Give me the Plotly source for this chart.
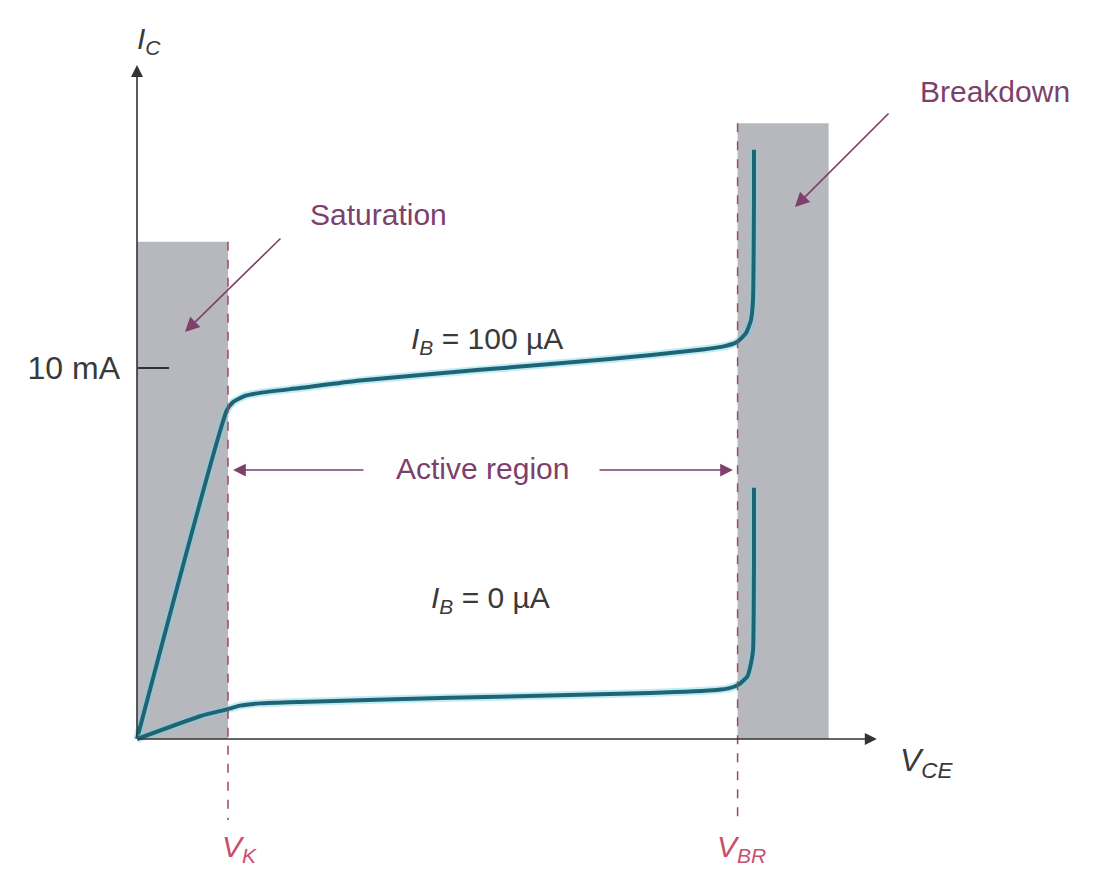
import plotly.graph_objects as go

# ---- data (x: arbitrary V_CE units, y: I_C in mA) ----
ib100_x = [0, 9.89, 10.55, 11.87, 13.52, 17.91, 24.51, 37.69, 51.98, 61.87, 64.62, 65.93, 66.92, 67.47, 67.69, 67.80, 67.80]
ib100_y = [0, 8.87, 9.08, 9.25, 9.33, 9.46, 9.66, 9.95, 10.24, 10.49, 10.59, 10.70, 10.94, 11.29, 11.83, 14.53, 15.88]
ib0_x = [0, 7.0, 9.89, 11.32, 13.52, 17.91, 34.4, 56.4, 63.7, 65.1, 66.2, 67.1, 67.5, 67.7, 67.8, 67.8]
ib0_y = [0, 0.62, 0.80, 0.90, 0.96, 1.00, 1.11, 1.24, 1.32, 1.37, 1.48, 1.70, 2.07, 2.40, 4.8, 6.77]

v_k = 10.0
v_br = 66.0
sat_top = 13.4
br_right = 76.0
br_top = 16.6
x_max = 81.3
y_max = 18.17
tick_vals = [10]
tick_text = ["10 mA"]

FONT = "Liberation Sans, Arial, sans-serif"
PURPLE = "#7d3f6b"
TEAL = "#1f6475"
GRAY_TXT = "#3a3a3a"
PINK = "#c94f6d"

fig = go.Figure()

for xs, ys in [(ib100_x, ib100_y), (ib0_x, ib0_y)]:
    fig.add_trace(go.Scatter(x=xs, y=ys, mode="lines",
                             line=dict(color="rgba(120,210,230,0.45)", width=8, shape="spline", smoothing=0.5),
                             hoverinfo="skip", showlegend=False))
    fig.add_trace(go.Scatter(x=xs, y=ys, mode="lines",
                             line=dict(color=TEAL, width=4, shape="spline", smoothing=0.5),
                             showlegend=False))

# shaded regions
fig.add_shape(type="rect", x0=0, x1=v_k, y0=0, y1=sat_top, fillcolor="#b6b8be", line_width=0, layer="below")
fig.add_shape(type="rect", x0=v_br, x1=br_right, y0=0, y1=br_top, fillcolor="#b6b8be", line_width=0, layer="below")

# dashed boundaries
fig.add_shape(type="line", x0=v_k, x1=v_k, y0=sat_top, y1=-2.18, line=dict(color="#9a4a62", width=1.5, dash="dash"))
fig.add_shape(type="line", x0=v_br, x1=v_br, y0=br_top, y1=-2.18, line=dict(color="#9a4a62", width=1.5, dash="dash"))

def arrow(x0, y0, x1, y1, color, width=1.6, head=2, size=1.4):
    fig.add_annotation(x=x1, y=y1, ax=x0, ay=y0, xref="x", yref="y", axref="x", ayref="y",
                       text="", showarrow=True, arrowhead=head, arrowsize=size,
                       arrowwidth=width, arrowcolor=color)

# axes with arrows
arrow(0, 0, x_max, 0, "#333333", 1.6, 2, 1.5)
arrow(0, 0, 0, y_max, "#333333", 1.6, 2, 1.5)

# region pointers
arrow(15.93, 13.53, 5.27, 10.97, PURPLE, 1.6, 2, 1.8)
arrow(82.75, 16.9, 72.3, 14.34, PURPLE, 1.6, 2, 1.8)
arrow(25.05, 7.25, 10.55, 7.25, PURPLE, 1.6, 2, 1.6)
arrow(50.66, 7.25, 65.49, 7.25, PURPLE, 1.6, 2, 1.6)

def label(x, y, text, color, size=30):
    fig.add_annotation(x=x, y=y, xref="x", yref="y", text=text, showarrow=False,
                       font=dict(family=FONT, size=size, color=color))

label(26.5, 14.15, "Saturation", PURPLE)
label(94.3, 17.44, "Breakdown", PURPLE)
label(38.0, 7.3, "Active region", PURPLE)
label(38.5, 10.75, "<i>I</i><sub><i>B</i></sub> = 100 µA", GRAY_TXT)
label(38.8, 3.75, "<i>I</i><sub><i>B</i></sub> = 0 µA", GRAY_TXT)
label(1.3, 18.84, "<i>I</i><sub><i>C</i></sub>", GRAY_TXT)
label(86.8, -0.62, "<i>V</i><sub><i>CE</i></sub>", GRAY_TXT, 32)
label(11.3, -2.94, "<i>V</i><sub><i>K</i></sub>", PINK)
label(66.4, -2.94, "<i>V</i><sub><i>BR</i></sub>", PINK)

# page has an 8 px body margin: map full figure so screenshot px -> data
W, H = 1091, 858
x_lo, x_hi = (8 - 137) / 9.1, (8 + W - 137) / 9.1
y_hi, y_lo = (739 - 8) / 37.1, (739 - 8 - H) / 37.1

fig.update_layout(
    width=W, height=H,
    margin=dict(l=0, r=0, t=0, b=0, autoexpand=False),
    plot_bgcolor="white", paper_bgcolor="white",
    showlegend=False,
    xaxis=dict(range=[x_lo, x_hi], visible=False, fixedrange=True),
    yaxis=dict(range=[y_lo, y_hi], showgrid=False, zeroline=False, showline=False,
               anchor="free", position=(137 - 8) / W,
               tickmode="array", tickvals=tick_vals, ticktext=tick_text,
               ticks="inside", ticklen=31, tickwidth=1.5, tickcolor="#333333",
               ticklabelstandoff=17,
               tickfont=dict(family=FONT, size=32, color=GRAY_TXT), fixedrange=True),
)

fig.write_html("out.html")
